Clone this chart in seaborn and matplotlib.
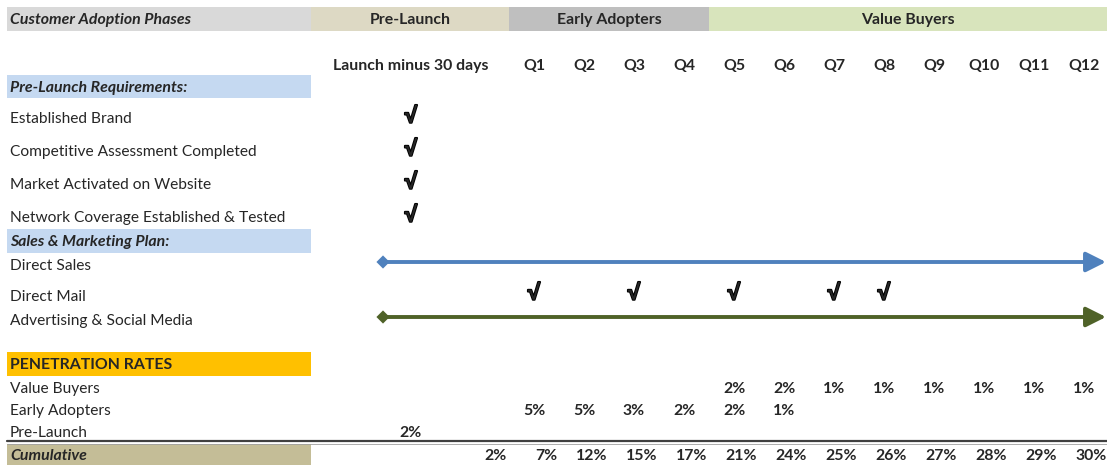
import matplotlib
matplotlib.use("Agg")
import matplotlib.pyplot as plt
import matplotlib.patches as mpatches
import matplotlib.patheffects as pe
import seaborn as sns
import pandas as pd

# ---------------- data ----------------
phases = ["Pre-Launch", "Early Adopters", "Value Buyers"]
quarters = ["Q1", "Q2", "Q3", "Q4", "Q5", "Q6", "Q7", "Q8", "Q9", "Q10", "Q11", "Q12"]
columns = ["Launch minus 30 days"] + quarters
requirements = ["Established Brand", "Competitive Assessment Completed",
                "Market Activated on Website", "Network Coverage Established & Tested"]
requirement_done = ["Launch minus 30 days"] * 4
plan_items = ["Direct Sales", "Direct Mail", "Advertising & Social Media"]
direct_mail_quarters = ["Q1", "Q3", "Q5", "Q7", "Q8"]
rate_rows = ["Value Buyers", "Early Adopters", "Pre-Launch"]
value_buyers = [None, None, None, None, None, 2, 2, 1, 1, 1, 1, 1, 1]
early_adopters = [None, 5, 5, 3, 2, 2, 1, None, None, None, None, None, None]
pre_launch = [2, None, None, None, None, None, None, None, None, None, None, None, None]
cumulative = [2, 7, 12, 15, 17, 21, 24, 25, 26, 27, 28, 29, 30]

# ---------------- layout ----------------
W, H = 1107, 465
sns.set_theme(style="white")
plt.rcParams["font.family"] = ["Lato", "DejaVu Sans"]

fig = plt.figure(figsize=(W / 100, H / 100), dpi=100)
ax = fig.add_axes([0, 0, 1, 1])
ax.set_xlim(0, W)
ax.set_ylim(H, 0)
ax.axis("off")

col_x = {c: (411 if i == 0 else 534 + 50 * (i - 1)) for i, c in enumerate(columns)}
col_right = {c: (507 if i == 0 else 557 + 50 * (i - 1)) for i, c in enumerate(columns)}
FS = 11.2
FSB = 11.4
LEFT = 10
CHECK = dict(fontsize=16, fontweight="bold", va="center", ha="center",
             family=["Liberation Sans", "DejaVu Sans"],
             path_effects=[pe.withStroke(linewidth=1.4, foreground="black")])


def band(x0, x1, y0, y1, color):
    ax.add_patch(mpatches.Rectangle((x0, y0), x1 - x0, y1 - y0, color=color, lw=0, zorder=0))


# header bands
band(7, 311, 7, 31, "#d9d9d9")
phase_spans = {"Pre-Launch": (311, 509, "#ddd9c4"),
               "Early Adopters": (509, 709, "#bfbfbf"),
               "Value Buyers": (709, W, "#d8e4bc")}
ax.text(LEFT, 20, "Customer Adoption Phases", fontsize=FSB, fontweight="bold",
        fontstyle="italic", va="center", ha="left")
for p in phases:
    x0, x1, c = phase_spans[p]
    band(x0, x1, 7, 31, c)
    ax.text((x0 + x1) / 2, 20, p, fontsize=FSB, fontweight="bold", va="center", ha="center")

# column headers
for c in columns:
    ax.text(col_x[c], 66, c, fontsize=FSB, fontweight="bold", va="center", ha="center")

# requirements
band(7, 311, 75, 98, "#c5d9f1")
ax.text(LEFT, 88, "Pre-Launch Requirements:", fontsize=FSB, fontweight="bold",
        fontstyle="italic", va="center", ha="left")
req_y = [119, 152, 185, 218]
for r, c, y in zip(requirements, requirement_done, req_y):
    ax.text(LEFT, y, r, fontsize=FS, va="center", ha="left", color="#262626")
    ax.text(col_x[c], y - 2, "√", **CHECK)

# sales & marketing plan
band(7, 311, 229, 253, "#c5d9f1")
ax.text(LEFT, 242, "Sales & Marketing Plan:", fontsize=FSB, fontweight="bold",
        fontstyle="italic", va="center", ha="left")
plan_y = [266, 297, 321]
for item, y in zip(plan_items, plan_y):
    ax.text(LEFT, y, item, fontsize=FS, va="center", ha="left", color="#262626")

arrows = pd.DataFrame({"item": ["Direct Sales", "Advertising & Social Media"],
                       "y": [262, 317],
                       "color": ["#4f81bd", "#4f6228"]})
for _, row in arrows.iterrows():
    ax.annotate("", xy=(W - 1, row.y), xytext=(383, row.y),
                arrowprops=dict(arrowstyle="-|>,head_length=1.0,head_width=0.5",
                                color=row.color, lw=2.8, shrinkA=0, shrinkB=0))
sns.scatterplot(data=arrows, x=[383, 383], y="y", hue="item",
                palette=dict(zip(arrows["item"], arrows["color"])),
                marker="D", s=45, linewidth=0, legend=False, ax=ax, zorder=5)

for q in direct_mail_quarters:
    ax.text(col_x[q], 294, "√", **CHECK)

# penetration rates
band(7, 311, 352, 376, "#ffc000")
ax.text(LEFT, 365, "PENETRATION RATES", fontsize=FSB, fontweight="bold", va="center", ha="left")
rate_y = [389, 411, 433]
for name, vals, y in zip(rate_rows, [value_buyers, early_adopters, pre_launch], rate_y):
    ax.text(LEFT, y, name, fontsize=FS, va="center", ha="left", color="#262626")
    for c, v in zip(columns, vals):
        if v is not None:
            ax.text(col_x[c], y, f"{v}%", fontsize=FSB, fontweight="bold", va="center", ha="center")

ax.plot([7, W], [441, 441], color="#404040", lw=1.6, zorder=3)
ax.plot([7, W], [443.5, 443.5], color="#a0a0a0", lw=0.6, zorder=3)

band(7, 311, 444, 465, "#c4bd97")
ax.text(LEFT, 456, "Cumulative", fontsize=FSB, fontweight="bold", fontstyle="italic",
        va="center", ha="left")
for c, v in zip(columns, cumulative):
    ax.text(col_right[c], 456, f"{v}%", fontsize=FSB, fontweight="bold", va="center", ha="right")

fig.savefig("out.png", dpi=100)
